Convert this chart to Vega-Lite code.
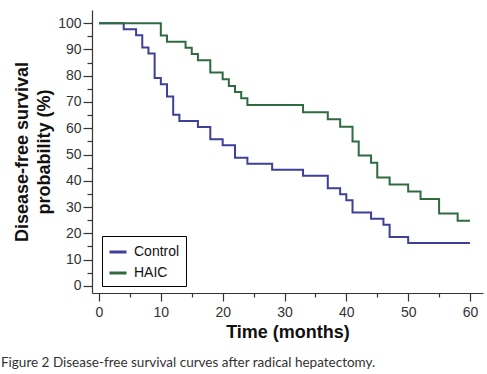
{
  "$schema": "https://vega.github.io/schema/vega-lite/v6.json",
  "width": 391,
  "height": 283,
  "autosize": {"type": "none"},
  "padding": {"left": 92, "top": 10, "right": 4, "bottom": 81},
  "background": "white",
  "config": {"view": {"stroke": null}, "font": "Liberation Sans"},
  "title": {
    "text": "Figure 2 Disease-free survival curves after radical hepatectomy.",
    "orient": "bottom", "anchor": "start", "frame": "group", "dx": -91, "offset": 15,
    "font": "Lato", "fontSize": 13.5, "fontWeight": "normal", "color": "#333333"
  },
  "data": {"values": [
    {"group": "Control", "time": 0, "surv": 100},
    {"group": "Control", "time": 4, "surv": 97.7},
    {"group": "Control", "time": 6, "surv": 95.4},
    {"group": "Control", "time": 7, "surv": 90.7},
    {"group": "Control", "time": 8, "surv": 88.4},
    {"group": "Control", "time": 9, "surv": 79.1},
    {"group": "Control", "time": 10, "surv": 76.7},
    {"group": "Control", "time": 11, "surv": 72.1},
    {"group": "Control", "time": 12, "surv": 65.1},
    {"group": "Control", "time": 13, "surv": 62.8},
    {"group": "Control", "time": 16, "surv": 60.5},
    {"group": "Control", "time": 18, "surv": 55.8},
    {"group": "Control", "time": 20, "surv": 53.5},
    {"group": "Control", "time": 22, "surv": 48.8},
    {"group": "Control", "time": 24, "surv": 46.5},
    {"group": "Control", "time": 28, "surv": 44.2},
    {"group": "Control", "time": 33, "surv": 41.9},
    {"group": "Control", "time": 37, "surv": 37.2},
    {"group": "Control", "time": 39, "surv": 34.9},
    {"group": "Control", "time": 40, "surv": 32.6},
    {"group": "Control", "time": 41, "surv": 27.9},
    {"group": "Control", "time": 44, "surv": 25.6},
    {"group": "Control", "time": 46, "surv": 23.3},
    {"group": "Control", "time": 47, "surv": 18.6},
    {"group": "Control", "time": 50, "surv": 16.3},
    {"group": "Control", "time": 60, "surv": 16.3},
    {"group": "HAIC", "time": 0, "surv": 100},
    {"group": "HAIC", "time": 10, "surv": 95.3},
    {"group": "HAIC", "time": 11, "surv": 92.9},
    {"group": "HAIC", "time": 14, "surv": 90.6},
    {"group": "HAIC", "time": 15, "surv": 88.3},
    {"group": "HAIC", "time": 16, "surv": 85.9},
    {"group": "HAIC", "time": 18, "surv": 81.2},
    {"group": "HAIC", "time": 20, "surv": 78.6},
    {"group": "HAIC", "time": 21, "surv": 76.1},
    {"group": "HAIC", "time": 22, "surv": 73.8},
    {"group": "HAIC", "time": 23, "surv": 71.4},
    {"group": "HAIC", "time": 24, "surv": 68.8},
    {"group": "HAIC", "time": 33, "surv": 66.1},
    {"group": "HAIC", "time": 37, "surv": 63.4},
    {"group": "HAIC", "time": 39, "surv": 60.6},
    {"group": "HAIC", "time": 41, "surv": 55.0},
    {"group": "HAIC", "time": 42, "surv": 49.6},
    {"group": "HAIC", "time": 44, "surv": 46.9},
    {"group": "HAIC", "time": 45, "surv": 41.3},
    {"group": "HAIC", "time": 47, "surv": 38.6},
    {"group": "HAIC", "time": 50, "surv": 35.9},
    {"group": "HAIC", "time": 52, "surv": 33.1},
    {"group": "HAIC", "time": 55, "surv": 27.6},
    {"group": "HAIC", "time": 58, "surv": 24.8},
    {"group": "HAIC", "time": 60, "surv": 24.8}
  ]},
  "mark": {"type": "line", "interpolate": "step-after", "strokeWidth": 2},
  "encoding": {
    "x": {
      "field": "time", "type": "quantitative",
      "scale": {"domain": [-1.13, 62.1], "nice": false, "zero": false},
      "axis": {
        "values": [0, 5, 10, 15, 20, 25, 30, 35, 40, 45, 50, 55, 60],
        "labelExpr": "datum.value % 10 === 0 ? datum.label : ''",
        "grid": false, "domainColor": "#333333", "domainWidth": 1.2,
        "tickColor": "#333333", "tickWidth": 1.2,
        "tickSize": {"condition": {"test": "datum.value % 10 === 0", "value": 8}, "value": 4},
        "labelFontSize": 14, "labelColor": "#333333", "labelPadding": 4,
        "labelFlush": false, "labelOverlap": false,
        "title": "Time (months)", "titleFontSize": 18, "titleFontWeight": "bold",
        "titleColor": "#111111", "titlePadding": 4
      }
    },
    "y": {
      "field": "surv", "type": "quantitative",
      "scale": {"domain": [-2.7, 105], "nice": false, "zero": false},
      "axis": {
        "values": [0, 5, 10, 15, 20, 25, 30, 35, 40, 45, 50, 55, 60, 65, 70, 75, 80, 85, 90, 95, 100],
        "labelExpr": "datum.value % 10 === 0 ? datum.label : ''",
        "grid": false, "domainColor": "#333333", "domainWidth": 1.2,
        "tickColor": "#333333", "tickWidth": 1.2,
        "tickSize": {"condition": {"test": "datum.value % 10 === 0", "value": 9}, "value": 5},
        "labelFontSize": 14, "labelColor": "#333333", "labelPadding": 2,
        "labelOverlap": false,
        "title": ["Disease-free survival", "probability (%)"],
        "titleFontSize": 18, "titleFontWeight": "bold", "titleColor": "#111111",
        "titleLineHeight": 22, "titlePadding": 4
      }
    },
    "color": {
      "field": "group", "type": "nominal",
      "scale": {"domain": ["Control", "HAIC"], "range": ["#3d3f98", "#2e6b40"]},
      "legend": {
        "orient": "none", "legendX": 10, "legendY": 226, "title": null,
        "strokeColor": "#000000", "padding": 6,
        "symbolType": "stroke", "symbolStrokeWidth": 3, "symbolSize": 289,
        "labelFontSize": 14, "labelColor": "#111111", "labelOffset": 6,
        "rowPadding": 4
      }
    }
  }
}
